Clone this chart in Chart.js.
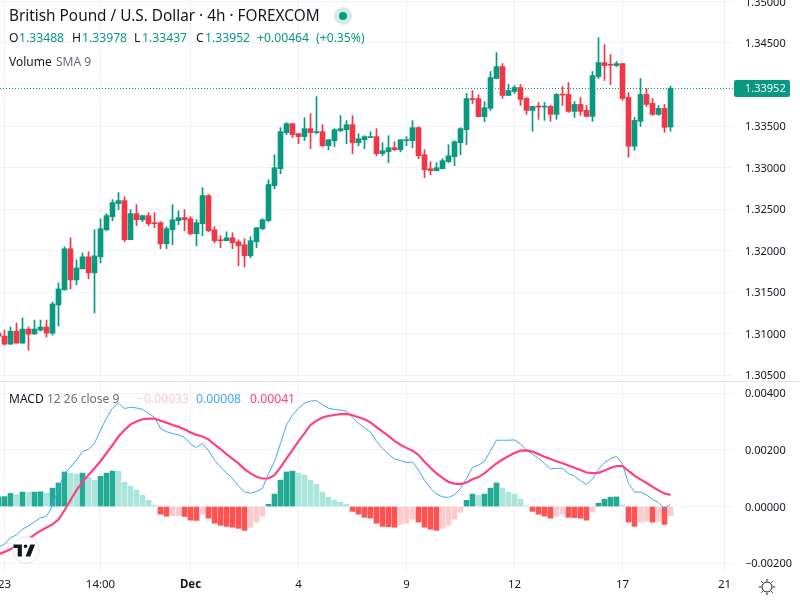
<!DOCTYPE html>
<html>
<head>
<meta charset="utf-8">
<script src="https://cdn.jsdelivr.net/npm/chart.js@4"></script>
<style>
html,body{margin:0;padding:0;background:#fff;overflow:hidden}
#wrap{position:relative;width:800px;height:600px;overflow:hidden;font-family:"Noto Sans",sans-serif;color:#131722}
canvas{position:absolute;left:0;top:0}
.t{position:absolute;white-space:nowrap;line-height:1}
.g{color:#089981}
#sep{position:absolute;left:0;top:381px;width:800px;height:1px;background:#e0e3eb}
</style>
</head>
<body>
<div id="wrap">
<canvas id="c" width="800" height="600"></canvas>
<div id="sep"></div>
<div class="t" style="left:9px;top:8px;font-size:15.35px">British Pound / U.S. Dollar · 4h · FOREXCOM</div>
<svg style="position:absolute;left:333px;top:6px" width="20" height="20"><circle cx="10" cy="10" r="9" fill="#d3ece7"/><circle cx="10" cy="10" r="4" fill="#089981"/></svg>
<div class="t" style="left:9px;top:32px;font-size:12.2px">O</div><div class="t g" style="left:19px;top:32px;font-size:12.2px">1.33488</div>
<div class="t" style="left:72px;top:32px;font-size:12.2px">H</div><div class="t g" style="left:82px;top:32px;font-size:12.2px">1.33978</div>
<div class="t" style="left:134px;top:32px;font-size:12.2px">L</div><div class="t g" style="left:142px;top:32px;font-size:12.2px">1.33437</div>
<div class="t" style="left:196px;top:32px;font-size:12.2px">C</div><div class="t g" style="left:205px;top:32px;font-size:12.2px">1.33952</div>
<div class="t g" style="left:257px;top:32px;font-size:12.2px">+0.00464</div><div class="t g" style="left:316px;top:32px;font-size:12.2px">(+0.35%)</div>
<div class="t" style="left:9px;top:56px;font-size:12px">Volume</div><div class="t" style="left:56px;top:56px;font-size:12px;color:#6a6d78">SMA 9</div>
<div class="t" style="left:9px;top:393px;font-size:12px">MACD</div><div class="t" style="left:47px;top:393px;font-size:12px;color:#6a6d78">12 26 close 9</div>
<div class="t" style="left:137px;top:393px;font-size:12.2px;color:#fccbcd">−0.00033</div>
<div class="t" style="left:196px;top:393px;font-size:12.2px;color:#42a5f5">0.00008</div>
<div class="t" style="left:250px;top:393px;font-size:12.2px;color:#ff4081">0.00041</div>
<svg style="position:absolute;left:12px;top:536px" width="28" height="28" viewBox="0 0 28 28"><circle cx="14" cy="14" r="13.2" fill="#fff" stroke="#e0e3eb"/><g transform="translate(1.5,8.5) scale(0.6)"><path d="M14 6H0v6h7v14h7V6z" fill="#131722" transform="translate(0,-6)"/><circle cx="20" cy="3" r="3" fill="#131722"/><path d="M28 0h8l-8 20h-8z" fill="#131722"/></g></svg>
<svg style="position:absolute;left:758px;top:578px" width="18" height="18" viewBox="0 0 18 18" fill="none" stroke="#131722" stroke-width="1"><circle cx="9" cy="9" r="5"/><path d="M9 1v2M9 15v2M1 9h2M15 9h2M3.3 3.3l1.4 1.4M13.3 13.3l1.4 1.4M3.3 14.7l1.4-1.4M13.3 4.7l1.4-1.4"/></svg>
</div>
<script>
const opens=[1.31001,1.30969,1.30872,1.31029,1.30884,1.31054,1.30993,1.31041,1.31078,1.31005,
1.31344,1.31525,1.32021,1.31646,1.31779,1.31924,1.31731,1.31924,1.32250,1.32408,
1.32565,1.32601,1.32130,1.32444,1.32371,1.32420,1.32335,1.32335,1.32081,1.32250,
1.32359,1.32396,1.32383,1.32202,1.32323,1.32662,1.32250,1.32130,1.32118,1.32154,
1.32105,1.32069,1.31936,1.32105,1.32263,1.32359,1.32781,1.32986,1.33420,1.33528,
1.33408,1.33372,1.33468,1.33420,1.33432,1.33263,1.33323,1.33444,1.33456,1.33516,
1.33299,1.33335,1.33360,1.33372,1.33167,1.33191,1.33239,1.33215,1.33323,1.33323,
1.33480,1.33154,1.32986,1.32962,1.32986,1.33070,1.33130,1.33299,1.33456,1.33830,
1.33830,1.33613,1.33712,1.34072,1.34216,1.33868,1.33916,1.33964,1.33832,1.33688,
1.33736,1.33728,1.33736,1.33640,1.33880,1.33880,1.33676,1.33760,1.33688,1.33616,
1.34096,1.34264,1.34240,1.34228,1.34252,1.33844,1.33256,1.33556,1.33880,1.33772,
1.33640,1.33712,1.33488];
const highs=[1.31020,1.31041,1.31078,1.31126,1.31187,1.31078,1.31162,1.31162,1.31162,1.31380,
1.31610,1.32045,1.32154,1.31888,1.31972,1.31985,1.32250,1.32383,1.32444,1.32613,
1.32698,1.32649,1.32492,1.32553,1.32420,1.32456,1.32456,1.32347,1.32287,1.32553,
1.32480,1.32492,1.32408,1.32371,1.32758,1.32674,1.32287,1.32178,1.32226,1.32214,
1.32130,1.32142,1.32166,1.32275,1.32383,1.32853,1.33154,1.33480,1.33540,1.33528,
1.33408,1.33601,1.33649,1.33854,1.33516,1.33335,1.33468,1.33625,1.33565,1.33625,
1.33408,1.33384,1.33432,1.33468,1.33299,1.33384,1.33311,1.33335,1.33372,1.33565,
1.33492,1.33215,1.33070,1.33058,1.33106,1.33275,1.33323,1.33480,1.33890,1.33926,
1.33878,1.33794,1.34156,1.34384,1.34252,1.34000,1.33988,1.34000,1.33844,1.33736,
1.33784,1.33784,1.33748,1.33892,1.33976,1.34024,1.33796,1.33844,1.33748,1.34156,
1.34564,1.34480,1.34360,1.34276,1.34252,1.33904,1.33604,1.34072,1.33952,1.33832,
1.33748,1.33760,1.33978];
const lows=[1.30940,1.30860,1.30872,1.30884,1.30884,1.30800,1.30993,1.31029,1.30957,1.30981,
1.31090,1.31525,1.31537,1.31586,1.31779,1.31658,1.31247,1.31852,1.32238,1.32359,
1.32492,1.32105,1.32130,1.32299,1.32347,1.32299,1.32275,1.32021,1.32021,1.32069,
1.32311,1.32238,1.32190,1.32057,1.32178,1.32226,1.32093,1.32033,1.32118,1.32021,
1.31815,1.31803,1.31912,1.32033,1.32250,1.32347,1.32744,1.32925,1.33396,1.33360,
1.33287,1.33323,1.33227,1.33408,1.33251,1.33215,1.33251,1.33432,1.33287,1.33167,
1.33263,1.33227,1.33360,1.33142,1.33142,1.33058,1.33203,1.33191,1.33263,1.33239,
1.33106,1.32877,1.32913,1.32962,1.32986,1.33058,1.33022,1.33154,1.33275,1.33770,
1.33613,1.33552,1.33688,1.34072,1.33832,1.33868,1.33892,1.33748,1.33640,1.33436,
1.33580,1.33568,1.33556,1.33580,1.33748,1.33664,1.33604,1.33628,1.33616,1.33556,
1.34072,1.34048,1.34000,1.34216,1.33808,1.33124,1.33208,1.33496,1.33736,1.33628,
1.33628,1.33424,1.33437];
const closes=[1.30969,1.30872,1.31029,1.30884,1.31054,1.30993,1.31054,1.31078,1.31005,1.31356,
1.31537,1.32021,1.31646,1.31791,1.31924,1.31731,1.31936,1.32263,1.32420,1.32577,
1.32601,1.32130,1.32444,1.32371,1.32420,1.32323,1.32323,1.32081,1.32263,1.32371,
1.32396,1.32371,1.32202,1.32335,1.32662,1.32238,1.32118,1.32118,1.32154,1.32093,
1.32057,1.31936,1.32118,1.32275,1.32371,1.32795,1.32998,1.33432,1.33528,1.33396,
1.33372,1.33468,1.33420,1.33432,1.33263,1.33335,1.33456,1.33468,1.33516,1.33299,
1.33347,1.33372,1.33372,1.33167,1.33203,1.33239,1.33215,1.33335,1.33335,1.33480,
1.33142,1.32974,1.32962,1.32998,1.33082,1.33142,1.33311,1.33468,1.33830,1.33818,
1.33613,1.33721,1.34084,1.34216,1.33868,1.33928,1.33964,1.33820,1.33688,1.33736,
1.33728,1.33736,1.33640,1.33880,1.33872,1.33676,1.33760,1.33676,1.33616,1.34108,
1.34264,1.34228,1.34232,1.34252,1.33832,1.33256,1.33568,1.33880,1.33760,1.33640,
1.33712,1.33484,1.33952];
const hist=[.00034,.00035,.00046,.00042,.00051,.00050,.00051,.00052,.00047,.00065,
.00083,.00122,.00118,.00114,.00118,.00104,.00093,.00107,.00118,.00125,
.00124,.00086,.00072,.00058,.00040,.00022,.00005,-.00027,-.00034,-.00033,
-.00032,-.00035,-.00048,-.00049,-.00027,-.00041,-.00059,-.00066,-.00070,-.00073,
-.00077,-.00084,-.00073,-.00055,-.00034,.00008,.00044,.00093,.00122,.00125,
.00118,.00111,.00093,.00079,.00051,.00033,.00022,.00015,.00008,-.00017,
-.00027,-.00038,-.00041,-.00059,-.00070,-.00071,-.00073,-.00063,-.00059,-.00045,
-.00055,-.00073,-.00080,-.00084,-.00077,-.00066,-.00045,-.00020,.00022,.00044,
.00040,.00044,.00065,.00083,.00065,.00051,.00044,.00026,.00001,-.00017,
-.00027,-.00034,-.00041,-.00034,-.00027,-.00038,-.00039,-.00041,-.00048,-.00020,
.00012,.00026,.00033,.00034,.00005,-.00055,-.00070,-.00055,-.00052,-.00055,
-.00052,-.00063,-.00033];
const macd=[-.00143,-.00133,-.00110,-.00100,-.00080,-.00068,-.00054,-.00040,-.00034,.00001,
.00064,.00117,.00138,.00164,.00194,.00202,.00223,.00270,.00312,.00347,
.00365,.00346,.00350,.00348,.00343,.00329,.00315,.00276,.00264,.00258,
.00253,.00244,.00221,.00208,.00223,.00197,.00164,.00140,.00119,.00099,
.00072,.00052,.00047,.00053,.00064,.00117,.00158,.00223,.00288,.00323,
.00347,.00365,.00372,.00374,.00359,.00347,.00343,.00340,.00336,.00315,
.00294,.00278,.00263,.00230,.00205,.00185,.00168,.00162,.00155,.00157,
.00129,.00093,.00064,.00044,.00034,.00032,.00042,.00063,.00099,.00138,
.00146,.00160,.00197,.00234,.00234,.00234,.00235,.00221,.00199,.00185,
.00170,.00152,.00133,.00135,.00135,.00117,.00107,.00091,.00078,.00097,
.00131,.00155,.00169,.00177,.00150,.00081,.00051,.00051,.00041,.00025,
.00015,-.00007,.00008];
const signal=[-.00169,-.00160,-.00151,-.00139,-.00127,-.00114,-.00099,-.00086,-.00074,-.00063,
-.00046,-.00013,.00022,.00058,.00087,.00111,.00135,.00160,.00188,.00217,
.00247,.00270,.00290,.00300,.00308,.00310,.00310,.00303,.00296,.00288,
.00281,.00273,.00261,.00253,.00247,.00237,.00219,.00203,.00185,.00168,
.00152,.00132,.00117,.00105,.00099,.00099,.00111,.00138,.00170,.00199,
.00231,.00258,.00288,.00303,.00314,.00320,.00323,.00326,.00327,.00322,
.00315,.00308,.00297,.00280,.00264,.00249,.00232,.00218,.00207,.00197,
.00182,.00158,.00137,.00117,.00101,.00087,.00081,.00079,.00085,.00096,
.00104,.00117,.00135,.00152,.00166,.00178,.00189,.00197,.00198,.00194,
.00185,.00176,.00168,.00160,.00153,.00145,.00137,.00129,.00120,.00118,
.00119,.00127,.00136,.00143,.00143,.00126,.00109,.00096,.00083,.00070,
.00057,.00046,.00041];
const xTickIndex=[1,17,32,50,68,86,104,121];
const xTickLabels=['23','14:00','Dec','4','9','12','17','21'];
const priceTicks=[1.35,1.345,1.34,1.335,1.33,1.325,1.32,1.315,1.31,1.305];
const macdTicks=[.004,.002,0,-.002];
const lastPrice=1.33952;

const UP='#089981',DOWN='#f23645',GRID='#f0f3fa',TEXT='#131722';
const FONT='"Noto Sans"';
const idx=closes.map((_,i)=>i);
const candleCol=idx.map(i=>closes[i]>=opens[i]?UP:DOWN);
const histCol=hist.map((v,i)=>{
  const up=i===0||v>=hist[i-1];
  return v>=0?(up?'#22ab94':'#ace5dc'):(up?'#fccbcd':'#ff5252');
});
const xMin=0.25,xMax=122.4167;

function fitY(s){s.width=67;s.paddingTop=0;s.paddingBottom=0;}
const lastLabel={id:'lastLabel',afterDraw(ch){
  const c=ch.ctx,y=ch.scales.price.getPixelForValue(lastPrice),l=ch.chartArea.right+1;
  c.save();c.fillStyle=UP;c.beginPath();c.roundRect(l,Math.round(y-8.5),56,17,2);c.fill();
  c.fillStyle='#fff';c.font='11px '+FONT;c.textBaseline='middle';c.textAlign='left';
  c.fillText(lastPrice.toFixed(5),l+11,y+.5);c.restore();
}};

new Chart(document.getElementById('c'),{
  type:'bar',
  plugins:[lastLabel],
  data:{datasets:[
    {type:'bar',label:'Wick',xAxisID:'x',yAxisID:'price',grouped:false,barThickness:1,order:5,
     data:idx.map(i=>({x:i,y:[lows[i],highs[i]]})),backgroundColor:candleCol},
    {type:'bar',label:'Body',xAxisID:'x',yAxisID:'price',grouped:false,barThickness:5,minBarLength:1,order:4,
     data:idx.map(i=>({x:i,y:[Math.min(opens[i],closes[i]),Math.max(opens[i],closes[i])]})),backgroundColor:candleCol},
    {type:'line',label:'Last',xAxisID:'x',yAxisID:'price',order:1,
     data:[{x:xMin,y:lastPrice},{x:xMax,y:lastPrice}],borderColor:UP,borderWidth:1,borderDash:[1,2],pointRadius:0},
    {type:'bar',label:'Histogram',xAxisID:'x',yAxisID:'macd',grouped:false,barThickness:5,order:4,
     data:idx.map(i=>({x:i,y:hist[i]})),backgroundColor:histCol},
    {type:'line',label:'MACD',xAxisID:'x',yAxisID:'macd',order:3,
     data:idx.map(i=>({x:i,y:macd[i]})),borderColor:'#42a5f5',borderWidth:1,pointRadius:0,tension:0},
    {type:'line',label:'Signal',xAxisID:'x',yAxisID:'macd',order:2,
     data:idx.map(i=>({x:i,y:signal[i]})),borderColor:'#ff4081',borderWidth:2.2,pointRadius:0,tension:0}
  ]},
  options:{
    responsive:false,animation:false,devicePixelRatio:1,
    layout:{padding:0},
    plugins:{legend:{display:false},tooltip:{enabled:false},title:{display:false}},
    scales:{
      x:{type:'linear',position:'bottom',min:xMin,max:xMax,offset:false,
        grid:{offset:false,color:GRID,drawTicks:false,lineWidth:1},border:{display:false},
        afterBuildTicks(s){s.ticks=xTickIndex.map(v=>({value:v}));},
        afterFit(s){s.height=28;s.paddingLeft=0;s.paddingRight=0;},
        ticks:{autoSkip:false,maxRotation:0,padding:6,color:TEXT,
          font:c=>({family:FONT,size:11.5,weight:c.tick&&xTickLabels[xTickIndex.indexOf(c.tick.value)]==='Dec'?'bold':'normal'}),
          callback:v=>xTickLabels[xTickIndex.indexOf(v)]}},
      price:{type:'linear',position:'right',stack:'pane',stackWeight:381,min:1.30428,max:1.35018,offset:false,
        grid:{color:GRID,drawTicks:false},border:{display:false},
        afterBuildTicks(s){s.ticks=priceTicks.map(v=>({value:v}));},
        afterFit:fitY,
        ticks:{autoSkip:false,crossAlign:'near',padding:12,labelOffset:1,color:TEXT,font:{family:FONT,size:11},
          callback:v=>Math.abs(v-lastPrice)<.001?'':v.toFixed(5)}},
      macd:{type:'linear',position:'right',stack:'pane',stackWeight:191,min:-.00231,max:.00443,offset:false,
        grid:{color:GRID,drawTicks:false},border:{display:false},
        afterBuildTicks(s){s.ticks=macdTicks.map(v=>({value:v}));},
        afterFit:fitY,
        ticks:{autoSkip:false,crossAlign:'near',padding:12,labelOffset:1,color:TEXT,font:{family:FONT,size:11},
          callback:v=>v<0?'−'+Math.abs(v).toFixed(5):v.toFixed(5)}}
    }
  }
});
</script>
</body>
</html>
